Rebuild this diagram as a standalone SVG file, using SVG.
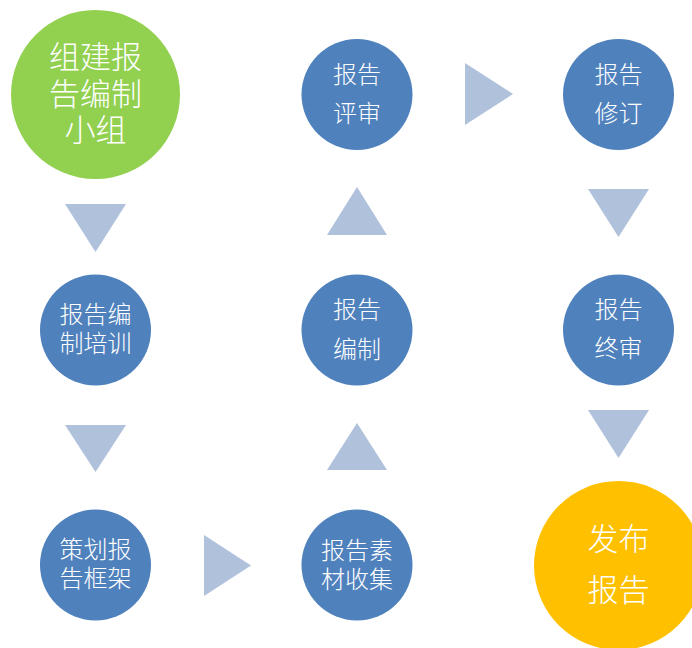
<svg xmlns="http://www.w3.org/2000/svg" width="692" height="648" viewBox="0 0 692 648">
<style>
  .blue { fill: #4F81BD; }
  .green { fill: #92D050; }
  .yellow { fill: #FFC000; }
  .arrow { fill: #B0C1DC; }
  text { fill: #FFFFFF; font-family: "Noto Sans CJK SC", "Noto Sans", sans-serif; font-weight: 300; text-anchor: middle; }
  .s { font-size: 24px; }
  .l { font-size: 31px; }
</style>
<rect width="692" height="648" fill="#FFFFFF"/>
<g id="connectors">
  <polygon class="arrow" points="65,204 126,204 95.5,252"/>
  <polygon class="arrow" points="65,425 126,425 95.5,472"/>
  <polygon class="arrow" points="204,535 204,596 251,565.5"/>
  <polygon class="arrow" points="327,470 387,470 357,423"/>
  <polygon class="arrow" points="327,235 387,235 357,187"/>
  <polygon class="arrow" points="465,63 465,125 513,94"/>
  <polygon class="arrow" points="588,189 649,189 618.5,237"/>
  <polygon class="arrow" points="588,410 649,410 618.5,458"/>
</g>
<g id="node-zujian">
  <circle class="green" cx="95.5" cy="94.5" r="84.5"/>
  <text class="l" x="95.5" y="68">组建报</text>
  <text class="l" x="95.5" y="105">告编制</text>
  <text class="l" x="95.5" y="141">小组</text>
</g>
<g id="node-peixun">
  <circle class="blue" cx="95.5" cy="330" r="55.5"/>
  <text class="s" x="95.5" y="323">报告编</text>
  <text class="s" x="95.5" y="352">制培训</text>
</g>
<g id="node-kuangjia">
  <circle class="blue" cx="95.5" cy="565" r="55.5"/>
  <text class="s" x="95.5" y="558">策划报</text>
  <text class="s" x="95.5" y="587">告框架</text>
</g>
<g id="node-sucai">
  <circle class="blue" cx="357" cy="565" r="55.5"/>
  <text class="s" x="357" y="559">报告素</text>
  <text class="s" x="357" y="588">材收集</text>
</g>
<g id="node-bianzhi">
  <circle class="blue" cx="357" cy="330" r="55.5"/>
  <text class="s" x="357" y="318">报告</text>
  <text class="s" x="357" y="358">编制</text>
</g>
<g id="node-pingshen">
  <circle class="blue" cx="357" cy="94.5" r="55.5"/>
  <text class="s" x="357" y="83">报告</text>
  <text class="s" x="357" y="122">评审</text>
</g>
<g id="node-xiuding">
  <circle class="blue" cx="618.5" cy="94.5" r="55.5"/>
  <text class="s" x="618.5" y="83">报告</text>
  <text class="s" x="618.5" y="122">修订</text>
</g>
<g id="node-zhongshen">
  <circle class="blue" cx="618.5" cy="330" r="55.5"/>
  <text class="s" x="618.5" y="318">报告</text>
  <text class="s" x="618.5" y="357">终审</text>
</g>
<g id="node-fabu">
  <circle class="yellow" cx="618.5" cy="565.5" r="84.5"/>
  <text class="l" x="618.5" y="550">发布</text>
  <text class="l" x="618.5" y="601">报告</text>
</g>
</svg>
